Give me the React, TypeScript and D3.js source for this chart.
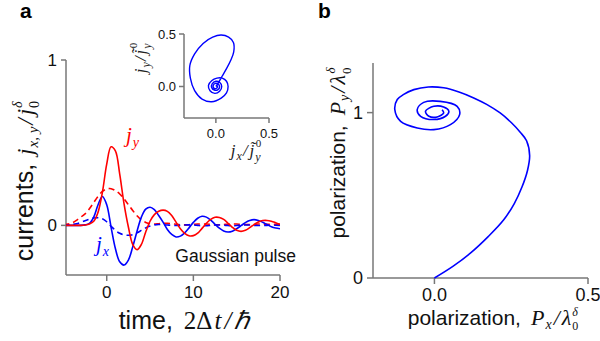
import * as d3 from "d3";

// sample times for panel a (2Δt/ħ)
const times = [
  -5, -4.5, -4, -3.5, -3, -2.5, -2, -1.5, -1, -0.5, 0, 0.5, 1, 1.5, 2, 2.5, 3, 3.5, 4, 4.5,
  5, 5.5, 6, 6.5, 7, 7.5, 8, 8.5, 9, 9.5, 10, 10.5, 11, 11.5, 12, 12.5, 13, 13.5, 14, 14.5,
  15, 15.5, 16, 16.5, 17, 17.5, 18, 18.5, 19, 19.5, 20,
];
const jy = [
  0, 0, 0, 0, 0, 0.002, 0.008, 0.025, 0.08, 0.2, 0.37, 0.475, 0.45, 0.31, 0.13, -0.01, -0.115, -0.147, -0.115, -0.04,
  0.025, 0.065, 0.085, 0.092, 0.085, 0.06, 0.02, -0.02, -0.048, -0.063, -0.062, -0.047, -0.018, 0.012, 0.036, 0.049, 0.048, 0.036, 0.013, -0.012,
  -0.03, -0.036, -0.03, -0.014, 0.005, 0.02, 0.029, 0.03, 0.025, 0.016, 0.006,
];
const jx = [
  0, 0, 0, 0, 0, 0.003, 0.012, 0.05, 0.125, 0.175, 0.125, -0.01, -0.14, -0.22, -0.24, -0.21, -0.13, -0.035, 0.05, 0.098,
  0.11, 0.095, 0.06, 0.02, -0.025, -0.055, -0.07, -0.065, -0.045, -0.015, 0.018, 0.043, 0.055, 0.05, 0.032, 0.007, -0.017, -0.034, -0.04, -0.035,
  -0.02, -0.002, 0.017, 0.03, 0.035, 0.03, 0.019, 0.005, -0.008, -0.016, -0.02,
];
const jyDash = [
  0.004, 0.008, 0.015, 0.03, 0.05, 0.07, 0.1, 0.138, 0.175, 0.205, 0.22, 0.222, 0.21, 0.19, 0.16, 0.125, 0.09, 0.058, 0.033, 0.018,
  0.01, 0.008, 0.01, 0.012, 0.012, 0.01, 0.007, 0.004, 0.003, 0.004, 0.006, 0.008, 0.009, 0.008, 0.006, 0.004, 0.004, 0.005, 0.007, 0.008,
  0.008, 0.006, 0.005, 0.005, 0.006, 0.008, 0.008, 0.007, 0.006, 0.006, 0.006,
];
const jxDash = [
  0, 0.002, 0.005, 0.01, 0.018, 0.028, 0.038, 0.045, 0.046, 0.04, 0.022, -0.005, -0.03, -0.048, -0.057, -0.06, -0.056, -0.045, -0.03, -0.015,
  -0.004, 0.003, 0.005, 0.004, 0.002, 0, -0.001, 0, 0.002, 0.003, 0.002, 0, -0.002, -0.002, 0, 0.002, 0.002, 0.001, -0.001, -0.002,
  -0.001, 0.001, 0.002, 0.002, 0, -0.001, -0.001, 0, 0.001, 0.001, 0,
];

// inset: j_x vs j_y trajectory
const insetX = [
  0, 0.02, 0.06, 0.1, 0.14, 0.168, 0.165, 0.12, 0.05, -0.03, -0.12, -0.2, -0.245, -0.24, -0.2, -0.13, -0.04, 0.05, 0.1, 0.115,
  0.1, 0.06, 0.01, -0.04, -0.07, -0.055, -0.01, 0.035, 0.055, 0.035, 0, -0.035, -0.04, -0.015, 0.02, 0.035, 0.02, -0.005, -0.025, -0.02,
  0, 0.015, 0.01, 0,
];
const insetY = [
  0, 0.03, 0.1, 0.17, 0.25, 0.33, 0.42, 0.47, 0.49, 0.47, 0.41, 0.31, 0.2, 0.08, -0.04, -0.12, -0.145, -0.11, -0.06, 0,
  0.05, 0.08, 0.08, 0.055, 0.01, -0.04, -0.065, -0.045, 0, 0.04, 0.05, 0.025, -0.01, -0.035, -0.03, 0, 0.025, 0.03, 0.01, -0.015,
  -0.02, -0.005, 0.01, 0.01,
];

// panel b: polarization trajectory
const polX = [
  0, 0.06, 0.117, 0.175, 0.225, 0.26, 0.285, 0.303, 0.31, 0.3, 0.28, 0.25, 0.214, 0.17, 0.128, 0.08, 0.03, -0.02, -0.067, -0.1,
  -0.121, -0.129, -0.11, -0.056, -0.002, 0.052, 0.082, 0.074, 0.019, -0.035, -0.056, -0.045, -0.002, 0.036, 0.047, 0.03, -0.002, -0.029, -0.018, 0.009,
  0.03, 0.025,
];
const polY = [
  0, 0.07, 0.15, 0.25, 0.35, 0.45, 0.55, 0.65, 0.74, 0.83, 0.88, 0.94, 0.998, 1.05, 1.089, 1.125, 1.15, 1.155, 1.139, 1.11,
  1.079, 1.018, 0.947, 0.907, 0.897, 0.927, 0.988, 1.038, 1.068, 1.062, 1.018, 0.978, 0.958, 0.978, 1.008, 1.034, 1.038, 1.008, 0.978, 0.974,
  0.998, 1.018,
];

const sans = "'Liberation Sans', Arial, sans-serif";
const serif = "'Liberation Serif', 'Times New Roman', serif";
const axisCol = "#777";
const red = "#ff0000";
const blue = "#0000ff";

export default function App() {
  // panel a
  const xA = d3.scaleLinear().domain([-4.7, 20]).range([66, 280]);
  const yA = d3.scaleLinear().domain([-0.3, 1]).range([275, 60]);
  const lineA = (vals: number[]) =>
    d3
      .line<number>()
      .x((_, i) => xA(times[i]))
      .y((d) => yA(d))
      .curve(d3.curveCatmullRom.alpha(0.5))(vals) ?? "";

  // inset
  const xI = d3.scaleLinear().domain([-0.3, 0.5]).range([184, 269]);
  const yI = d3.scaleLinear().domain([-0.3, 0.5]).range([118, 34]);
  const insetPath =
    d3
      .line<number>()
      .x((d) => xI(d))
      .y((_, i) => yI(insetY[i]))
      .curve(d3.curveCatmullRom.alpha(0.5))(insetX) ?? "";

  // panel b
  const xB = d3.scaleLinear().domain([-0.2, 0.5]).range([373, 588]);
  const yB = d3.scaleLinear().domain([0, 1.3]).range([278, 63]);
  const polPath =
    d3
      .line<number>()
      .x((d) => xB(d))
      .y((_, i) => yB(polY[i]))
      .curve(d3.curveCatmullRom.alpha(0.5))(polX) ?? "";

  const [xa0, xa1] = xA.range();
  const [ya0, ya1] = yA.range();

  return (
    <svg
      width={600}
      height={341}
      style={{ position: "absolute", left: 0, top: 0, background: "#fff" }}
    >
      <defs>
        <clipPath id="clipA">
          <rect x={xa0} y={ya1 - 5} width={xa1 - xa0} height={ya0 - ya1 + 5} />
        </clipPath>
      </defs>

      {/* panel letters */}
      <text x={20} y={18} fontFamily={sans} fontWeight="bold" fontSize={21}>a</text>
      <text x={318} y={18} fontFamily={sans} fontWeight="bold" fontSize={21}>b</text>

      {/* ---- panel a axes ---- */}
      <g stroke={axisCol} strokeWidth={1.5} fill="none">
        <line x1={xa0} y1={ya1} x2={xa0} y2={ya0} />
        <line x1={xa0} y1={ya0} x2={xa1} y2={ya0} />
        {[0, 1].map((v) => (
          <line key={v} x1={xa0 - 5} x2={xa0} y1={yA(v)} y2={yA(v)} />
        ))}
        {[0, 10, 20].map((v) => (
          <line key={v} x1={xA(v)} x2={xA(v)} y1={ya0} y2={ya0 + 6} />
        ))}
      </g>
      <g fontFamily={sans} fontSize={17} fill="#111">
        {[0, 1].map((v) => (
          <text key={v} x={xa0 - 9} y={yA(v)} dy="0.35em" textAnchor="end">{v}</text>
        ))}
        {[0, 10, 20].map((v) => (
          <text key={v} x={xA(v)} y={298} textAnchor="middle">{v}</text>
        ))}
      </g>

      <g clipPath="url(#clipA)" fill="none" strokeWidth={1.6}>
        <path d={lineA(jyDash)} stroke={red} strokeDasharray="6,4" />
        <path d={lineA(jxDash)} stroke={blue} strokeDasharray="6,4" />
        <path d={lineA(jx)} stroke={blue} />
        <path d={lineA(jy)} stroke={red} />
      </g>

      <text x={126} y={142} fontFamily={serif} fontStyle="italic" fontSize={21} fill={red}>
        j<tspan fontSize={14} dx={1} dy={5}>y</tspan>
      </text>
      <text x={96} y={251} fontFamily={serif} fontStyle="italic" fontSize={21} fill={blue}>
        j<tspan fontSize={14} dx={1} dy={5}>x</tspan>
      </text>
      <text x={296} y={262} fontFamily={sans} fontSize={17.5} textAnchor="end" fill="#111">
        Gaussian pulse
      </text>

      {/* panel a axis titles */}
      <text x={184} y={329} textAnchor="middle" fill="#111">
        <tspan fontFamily={sans} fontSize={25}>time,</tspan>
        <tspan fontFamily={serif} fontSize={25} dx={11}>2Δ</tspan>
        <tspan fontFamily={serif} fontSize={25} fontStyle="italic" dx={2}>t</tspan>
        <tspan fontFamily={serif} fontSize={25} fontStyle="italic" dx={3}>/</tspan>
        <tspan fontFamily={serif} fontSize={25} fontStyle="italic" dx={3}>ℏ</tspan>
      </text>
      <text transform="translate(33,181) rotate(-90)" textAnchor="middle" fill="#111">
        <tspan fontFamily={sans} fontSize={25}>currents,</tspan>
        <tspan fontFamily={serif} fontSize={23} fontStyle="italic" dx={9}>j</tspan>
        <tspan fontFamily={serif} fontSize={15} fontStyle="italic" dx={1} dy={5}>x, y</tspan>
        <tspan fontFamily={serif} fontSize={23} fontStyle="italic" dx={2} dy={-5}>/</tspan>
        <tspan fontFamily={serif} fontSize={23} fontStyle="italic" dx={3}>j</tspan>
        <tspan fontFamily={serif} fontSize={14} dx={1} dy={6}>0</tspan>
        <tspan fontFamily={serif} fontSize={14} fontStyle="italic" dx={-7} dy={-17}>δ</tspan>
      </text>

      {/* ---- inset ---- */}
      <g stroke={axisCol} strokeWidth={1.5} fill="none">
        <line x1={xI.range()[0]} y1={yI.range()[1]} x2={xI.range()[0]} y2={yI.range()[0]} />
        <line x1={xI.range()[0]} y1={yI.range()[0]} x2={xI.range()[1]} y2={yI.range()[0]} />
        {[0, 0.5].map((v) => (
          <line key={"y" + v} x1={xI.range()[0] - 5} x2={xI.range()[0]} y1={yI(v)} y2={yI(v)} />
        ))}
        {[0, 0.5].map((v) => (
          <line key={"x" + v} x1={xI(v)} x2={xI(v)} y1={yI.range()[0]} y2={yI.range()[0] + 5} />
        ))}
      </g>
      <g fontFamily={sans} fontSize={13} fill="#111">
        {[0, 0.5].map((v) => (
          <text key={"y" + v} x={xI.range()[0] - 8} y={yI(v)} dy="0.35em" textAnchor="end">
            {v.toFixed(1)}
          </text>
        ))}
        {[0, 0.5].map((v) => (
          <text key={"x" + v} x={xI(v)} y={138} textAnchor="middle">{v.toFixed(1)}</text>
        ))}
      </g>
      <path d={insetPath} fill="none" stroke={blue} strokeWidth={1.4} />
      <text x={246} y={156} textAnchor="middle" fontFamily={serif} fontStyle="italic" fill="#222">
        <tspan fontSize={17}>j</tspan>
        <tspan fontSize={12} dx={1} dy={4}>x</tspan>
        <tspan fontSize={17} dx={1} dy={-4}>/</tspan>
        <tspan fontSize={17} dx={2}>j̃</tspan>
        <tspan fontSize={12} dx={1} dy={5}>y</tspan>
        <tspan fontSize={11} fontStyle="normal" dx={-5} dy={-14}>0</tspan>
      </text>
      <text transform="translate(146,58) rotate(-90)" textAnchor="middle" fontFamily={serif} fontStyle="italic" fill="#222">
        <tspan fontSize={17}>j</tspan>
        <tspan fontSize={12} dx={1} dy={4}>y</tspan>
        <tspan fontSize={17} dx={1} dy={-4}>/</tspan>
        <tspan fontSize={17} dx={2}>j̃</tspan>
        <tspan fontSize={12} dx={1} dy={5}>y</tspan>
        <tspan fontSize={11} fontStyle="normal" dx={-5} dy={-14}>0</tspan>
      </text>

      {/* ---- panel b ---- */}
      <g stroke={axisCol} strokeWidth={1.5} fill="none">
        <line x1={xB.range()[0]} y1={yB.range()[1]} x2={xB.range()[0]} y2={yB.range()[0]} />
        <line x1={xB.range()[0]} y1={yB.range()[0]} x2={xB.range()[1]} y2={yB.range()[0]} />
        {[0, 1].map((v) => (
          <line key={"y" + v} x1={xB.range()[0] - 6} x2={xB.range()[0]} y1={yB(v)} y2={yB(v)} />
        ))}
        {[0, 0.5].map((v) => (
          <line key={"x" + v} x1={xB(v)} x2={xB(v)} y1={yB.range()[0]} y2={yB.range()[0] + 6} />
        ))}
      </g>
      <g fontFamily={sans} fontSize={18} fill="#111">
        {[0, 1].map((v) => (
          <text key={"y" + v} x={xB.range()[0] - 10} y={yB(v)} dy="0.35em" textAnchor="end">{v}</text>
        ))}
        {[0, 0.5].map((v) => (
          <text key={"x" + v} x={xB(v)} y={301} textAnchor="middle">{v.toFixed(1)}</text>
        ))}
      </g>
      <path d={polPath} fill="none" stroke={blue} strokeWidth={1.6} />

      <text x={493} y={325} textAnchor="middle" fill="#111">
        <tspan fontFamily={sans} fontSize={21}>polarization,</tspan>
        <tspan fontFamily={serif} fontSize={22} fontStyle="italic" dx={10}>P</tspan>
        <tspan fontFamily={serif} fontSize={14} fontStyle="italic" dx={1} dy={4}>x</tspan>
        <tspan fontFamily={serif} fontSize={22} fontStyle="italic" dx={2} dy={-4}>/</tspan>
        <tspan fontFamily={serif} fontSize={22} fontStyle="italic" dx={2}>λ</tspan>
        <tspan fontFamily={serif} fontSize={12} dx={1} dy={5}>0</tspan>
        <tspan fontFamily={serif} fontSize={12} fontStyle="italic" dx={-6} dy={-14}>δ</tspan>
      </text>
      <text transform="translate(345,153) rotate(-90)" textAnchor="middle" fill="#111">
        <tspan fontFamily={sans} fontSize={21}>polarization,</tspan>
        <tspan fontFamily={serif} fontSize={22} fontStyle="italic" dx={10}>P</tspan>
        <tspan fontFamily={serif} fontSize={14} fontStyle="italic" dx={1} dy={4}>y</tspan>
        <tspan fontFamily={serif} fontSize={22} fontStyle="italic" dx={2} dy={-4}>/</tspan>
        <tspan fontFamily={serif} fontSize={22} fontStyle="italic" dx={2}>λ</tspan>
        <tspan fontFamily={serif} fontSize={13} dx={1} dy={6}>0</tspan>
        <tspan fontFamily={serif} fontSize={13} fontStyle="italic" dx={-6} dy={-16}>δ</tspan>
      </text>
    </svg>
  );
}
